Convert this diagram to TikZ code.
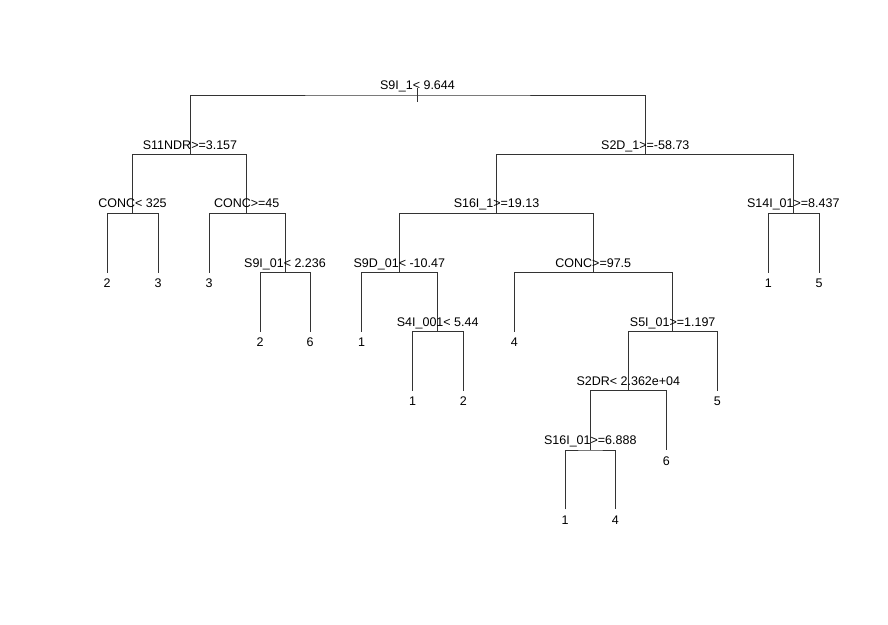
\documentclass[tikz,border=0pt]{standalone}
\usepackage{fontspec}
\setmainfont{Liberation Sans}
\begin{document}
\begin{tikzpicture}[x=1pt,y=-1pt,
  edge/.style={draw=black!80, line width=0.8pt},
  split/.style={anchor=base, inner sep=0pt, font=\fontsize{12.5}{15}\selectfont},
  leaflab/.style={anchor=base, inner sep=0pt, font=\fontsize{12.5}{15}\selectfont}]
\useasboundingbox[fill=white] (0,0) rectangle (888,624);
% internal split points
\coordinate (n1) at (417.5,95);
\coordinate (n2) at (190,154.5);
\coordinate (n3) at (645.3,154.5);
\coordinate (n4) at (132.5,213.3);
\coordinate (n5) at (246.7,213.3);
\coordinate (n6) at (496.5,213.3);
\coordinate (n7) at (793.3,213.3);
\coordinate (n10) at (285,272.5);
\coordinate (n12) at (399.3,272.5);
\coordinate (n13) at (593.3,272.5);
\coordinate (n25) at (437.7,331.7);
\coordinate (n27) at (672.7,331.7);
\coordinate (n54) at (628.3,390.8);
\coordinate (n108) at (590.3,450);
% leaves
\coordinate (l8) at (107,272.5);
\coordinate (l9) at (158,272.5);
\coordinate (l11) at (209,272.5);
\coordinate (l14) at (768.3,272.5);
\coordinate (l15) at (819,272.5);
\coordinate (l20) at (260,331.7);
\coordinate (l21) at (310,331.7);
\coordinate (l24) at (361.7,331.7);
\coordinate (l26) at (514.3,331.7);
\coordinate (l50) at (412.7,390.8);
\coordinate (l51) at (463.3,390.8);
\coordinate (l55) at (717.3,390.8);
\coordinate (l109) at (666.3,450);
\coordinate (l216) at (565,509.3);
\coordinate (l217) at (615.3,509.3);
% connectors
\draw[edge] ([yshift=7pt]n1) -- ([yshift=-7pt]n1);
\draw[edge] (n2) |- (n1) -| (n3);
\draw[edge] (n4) |- (n2) -| (n5);
\draw[edge] (n6) |- (n3) -| (n7);
\draw[edge] (l8) |- (n4) -| (l9);
\draw[edge] (l11) |- (n5) -| (n10);
\draw[edge] (l20) |- (n10) -| (l21);
\draw[edge] (n12) |- (n6) -| (n13);
\draw[edge] (l14) |- (n7) -| (l15);
\draw[edge] (l24) |- (n12) -| (n25);
\draw[edge] (l50) |- (n25) -| (l51);
\draw[edge] (l26) |- (n13) -| (n27);
\draw[edge] (n54) |- (n27) -| (l55);
\draw[edge] (n108) |- (n54) -| (l109);
\draw[edge] (l216) |- (n108) -| (l217);
% split labels
\node[split] (t1) at ([yshift=5.5pt]n1) {S9I\_1< 9.644};
\node[split] (t2) at ([yshift=5.5pt]n2) {S11NDR>=3.157};
\node[split] (t3) at ([yshift=5.5pt]n3) {S2D\_1>=-58.73};
\node[split] (t4) at ([yshift=5.5pt]n4) {CONC< 325};
\node[split] (t5) at ([yshift=5.5pt]n5) {CONC>=45};
\node[split] (t6) at ([yshift=5.5pt]n6) {S16I\_1>=19.13};
\node[split] (t7) at ([yshift=5.5pt]n7) {S14I\_01>=8.437};
\node[split] (t10) at ([yshift=5.5pt]n10) {S9I\_01< 2.236};
\node[split] (t12) at ([yshift=5.5pt]n12) {S9D\_01< -10.47};
\node[split] (t13) at ([yshift=5.5pt]n13) {CONC>=97.5};
\node[split] (t25) at ([yshift=5.5pt]n25) {S4I\_001< 5.44};
\node[split] (t27) at ([yshift=5.5pt]n27) {S5I\_01>=1.197};
\node[split] (t54) at ([yshift=5.5pt]n54) {S2DR< 2.362e+04};
\node[split] (t108) at ([yshift=5.5pt]n108) {S16I\_01>=6.888};
% leaf labels
\node[leaflab] (y8) at ([yshift=-15pt]l8) {2};
\node[leaflab] (y9) at ([yshift=-15pt]l9) {3};
\node[leaflab] (y11) at ([yshift=-15pt]l11) {3};
\node[leaflab] (y14) at ([yshift=-15pt]l14) {1};
\node[leaflab] (y15) at ([yshift=-15pt]l15) {5};
\node[leaflab] (y20) at ([yshift=-15pt]l20) {2};
\node[leaflab] (y21) at ([yshift=-15pt]l21) {6};
\node[leaflab] (y24) at ([yshift=-15pt]l24) {1};
\node[leaflab] (y26) at ([yshift=-15pt]l26) {4};
\node[leaflab] (y50) at ([yshift=-15pt]l50) {1};
\node[leaflab] (y51) at ([yshift=-15pt]l51) {2};
\node[leaflab] (y55) at ([yshift=-15pt]l55) {5};
\node[leaflab] (y109) at ([yshift=-15pt]l109) {6};
\node[leaflab] (y216) at ([yshift=-15pt]l216) {1};
\node[leaflab] (y217) at ([yshift=-15pt]l217) {4};
\end{tikzpicture}
\end{document}
